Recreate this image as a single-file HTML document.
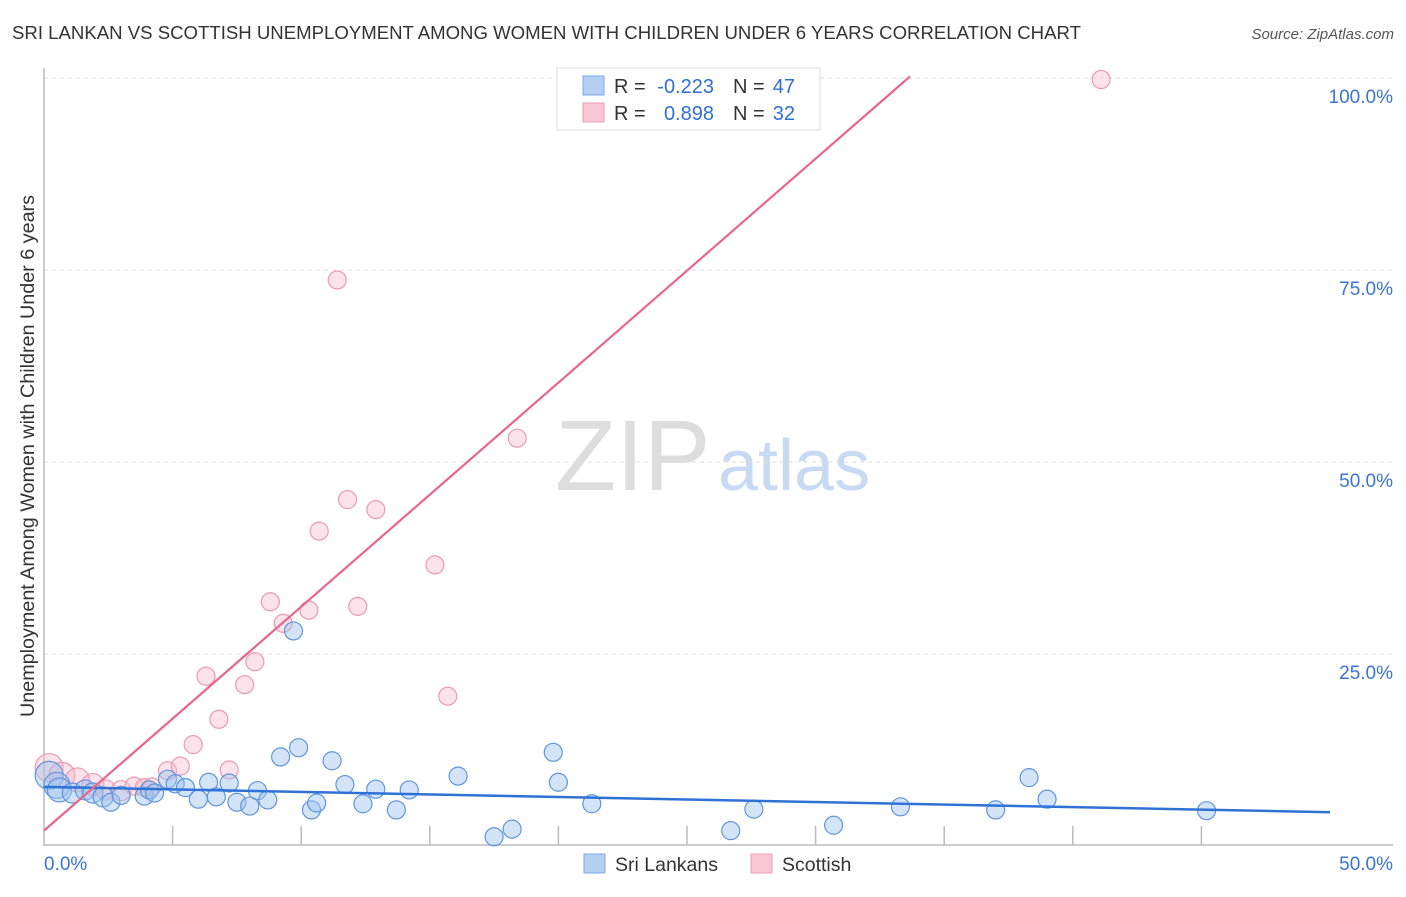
<!DOCTYPE html>
<html><head><meta charset="utf-8"><style>
body{margin:0;background:#fff;font-family:"Liberation Sans",sans-serif;}
svg text{font-family:"Liberation Sans",sans-serif;}
</style></head><body>
<svg id="chart" width="1406" height="892" xmlns="http://www.w3.org/2000/svg">
<text x="12" y="39" font-size="18.6" fill="#333">SRI LANKAN VS SCOTTISH UNEMPLOYMENT AMONG WOMEN WITH CHILDREN UNDER 6 YEARS CORRELATION CHART</text>
<text x="1394" y="39" font-size="15" fill="#555" text-anchor="end" font-style="italic">Source: ZipAtlas.com</text>
<text transform="translate(34,456) rotate(-90)" font-size="19" fill="#333" text-anchor="middle" textLength="522" lengthAdjust="spacingAndGlyphs">Unemployment Among Women with Children Under 6 years</text>
<g><text x="555" y="490" font-size="100" fill="#ddd" font-family="Liberation Serif,serif">ZIP</text><text x="718" y="490" font-size="72" fill="#c8daf2">atlas</text></g>
<g id="grid"></g><g id="axes"></g><g id="pts"></g><g id="lines"></g>
<g>
<rect x="557" y="68" width="263" height="62" fill="#fff" stroke="#ddd"/>
<rect x="583" y="76" width="21" height="19" fill="#b5cff3" stroke="#7fa8e4"/>
<rect x="583" y="103" width="21" height="19" fill="#f8c6d4" stroke="#ec9fb6"/>
<text x="614" y="93" font-size="20" fill="#333">R =</text>
<text x="714" y="93" font-size="20" fill="#2f6fd6" text-anchor="end">-0.223</text>
<text x="733" y="93" font-size="20" fill="#333">N =</text>
<text x="795" y="93" font-size="20" fill="#2f6fd6" text-anchor="end">47</text>
<text x="614" y="120" font-size="20" fill="#333">R =</text>
<text x="714" y="120" font-size="20" fill="#2f6fd6" text-anchor="end">0.898</text>
<text x="733" y="120" font-size="20" fill="#333">N =</text>
<text x="795" y="120" font-size="20" fill="#2f6fd6" text-anchor="end">32</text>
</g>
<g>
<rect x="584" y="854" width="21" height="19" fill="#b5cff3" stroke="#7fa8e4"/>
<text x="615" y="871" font-size="19.5" fill="#333">Sri Lankans</text>
<rect x="751" y="854" width="21" height="19" fill="#f8c6d4" stroke="#ec9fb6"/>
<text x="782" y="871" font-size="19.5" fill="#333">Scottish</text>
</g>
</svg>
<script>
const yTicks=[25,50,75,100];
const yTickLabels=["25.0%","50.0%","75.0%","100.0%"];
const xTicks=[5,10,15,20,25,30,35,40,45];
const blueX=[0.2,0.5,0.6,1.1,1.6,1.9,2.3,2.6,3.0,3.9,4.1,4.3,4.8,5.1,5.5,6.0,6.4,6.7,7.2,7.5,8.0,8.3,8.7,9.2,9.7,9.9,10.4,10.6,11.2,11.7,12.4,12.9,13.7,14.2,16.1,17.5,18.2,19.8,20.0,21.3,26.7,27.6,30.7,33.3,37.0,38.3,39.0,45.2];
const blueY=[9.2,7.9,7.3,6.9,7.3,6.9,6.4,5.7,6.6,6.5,7.3,6.9,8.7,8.1,7.6,6.1,8.3,6.4,8.2,5.7,5.2,7.2,6.0,11.6,28.0,12.8,4.7,5.6,11.1,8.0,5.5,7.4,4.7,7.3,9.1,1.2,2.2,12.2,8.3,5.5,2.0,4.8,2.7,5.1,4.7,8.9,6.1,4.6];
const blueR=[14,13,12,10,10,10,10,9,9,9,9,9,9,9,9,9,9,9,9,9,9,9,9,9,9,9,9,9,9,9,9,9,9,9,9,9,9,9,9,9,9,9,9,9,9,9,9,9];
const pinkX=[0.2,0.7,1.3,1.9,2.4,3.0,3.5,3.9,4.2,4.8,5.3,5.8,6.3,6.8,7.2,7.8,8.2,8.8,9.3,10.3,10.7,11.4,11.8,12.2,12.9,15.2,15.7,18.4,26.0,41.1];
const pinkY=[10.2,9.2,8.6,8.0,7.3,7.2,7.8,7.6,7.7,9.8,10.4,13.2,22.1,16.5,9.9,21.0,24.0,31.8,29.0,30.7,41.0,73.7,45.1,31.2,43.8,36.6,19.5,53.1,99.8,99.8];
const pinkR=[14,13,12,11,10,10,9,9,9,9,9,9,9,9,9,9,9,9,9,9,9,9,9,9,9,9,9,9,9,9];
const blueTrend=[0,7.7,50,4.4];
const pinkTrend=[0,2.0,33.67,100.2];
const X0=44,X1=1330,Y0=846,Y100=78;
const sx=v=>X0+(X1-X0)*v/50, sy=v=>Y0-(Y0-Y100)*v/100;
const NS="http://www.w3.org/2000/svg";
function mk(t,a,p){const e=document.createElementNS(NS,t);for(const k in a)e.setAttribute(k,a[k]);p.appendChild(e);return e;}
const grid=document.getElementById('grid'),axes=document.getElementById('axes'),pts=document.getElementById('pts'),lines=document.getElementById('lines');
yTicks.forEach((v,i)=>{
 const l=mk('line',{x1:X0,x2:1393,y1:sy(v),y2:sy(v),stroke:'#ddd','stroke-dasharray':'4,4'},grid);
 
 
 const t=mk('text',{x:1393,y:sy(v)+25,'font-size':19,fill:'#3b74d6','text-anchor':'end'},axes);t.textContent=yTickLabels[i];
 
 
});
let a=mk('line',{x1:X0,x2:X0,y1:68,y2:Y0,stroke:'#bbb','stroke-width':1.5},axes);


a=mk('line',{x1:X0,x2:1393,y1:Y0-1,y2:Y0-1,stroke:'#bbb','stroke-width':1.5},axes);


xTicks.forEach(v=>{const t=mk('line',{x1:sx(v),x2:sx(v),y1:826,y2:845,stroke:'#bbb','stroke-width':1.5},axes);
 
 });
let t=mk('text',{x:44,y:870,'font-size':19,fill:'#3b74d6'},axes);t.textContent='0.0%';


t=mk('text',{x:1393,y:870,'font-size':19,fill:'#3b74d6','text-anchor':'end'},axes);t.textContent='50.0%';


pinkX.forEach((x,i)=>{const c=mk('circle',{cx:sx(x),cy:sy(pinkY[i]),r:pinkR[i],fill:'rgba(248,182,202,0.4)',stroke:'#eb9ab2','stroke-width':1.2},pts);
 
 });
blueX.forEach((x,i)=>{const c=mk('circle',{cx:sx(x),cy:sy(blueY[i]),r:blueR[i],fill:'rgba(160,196,240,0.45)',stroke:'#5f95de','stroke-width':1.2},pts);
 
 });
let l=mk('line',{x1:sx(blueTrend[0]),y1:sy(blueTrend[1]),x2:sx(blueTrend[2]),y2:sy(blueTrend[3]),stroke:'#2f72d6','stroke-width':2.5},lines);


l=mk('line',{x1:sx(pinkTrend[0]),y1:sy(pinkTrend[1]),x2:sx(pinkTrend[2]),y2:sy(pinkTrend[3]),stroke:'#e8658c','stroke-width':2.2},lines);


</script>
</body></html>
